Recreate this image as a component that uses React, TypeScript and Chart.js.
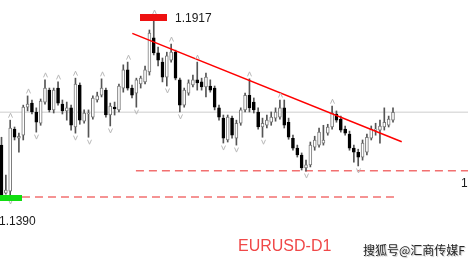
import React, { useEffect, useRef } from "react";
import { Chart, registerables } from "chart.js";

Chart.register(...registerables);

// EURUSD daily candles (index 0 .. 90)
const opens = [
  1.1542, 1.1401, 1.1407, 1.1589, 1.1562, 1.1571, 1.1653, 1.1665, 1.1639, 1.1606,
  1.1668, 1.1703, 1.1645, 1.1709, 1.1662, 1.1642, 1.1651, 1.1595, 1.1718, 1.1612,
  1.1633, 1.1624, 1.1674, 1.1688, 1.1703, 1.1630, 1.1653, 1.1645, 1.1709, 1.1762,
  1.1709, 1.1694, 1.1721, 1.1727, 1.1756, 1.1856, 1.1812, 1.1785, 1.1741, 1.1791,
  1.1814, 1.1733, 1.1659, 1.1694, 1.1718, 1.1733, 1.1727, 1.1712, 1.1715, 1.1709,
  1.1651, 1.1621, 1.1557, 1.1621, 1.1562, 1.1606, 1.1645, 1.1688, 1.1668, 1.1639,
  1.1595, 1.1600, 1.1609, 1.1621, 1.1624, 1.1651, 1.1609, 1.1562, 1.1533, 1.1513,
  1.1475, 1.1484, 1.1536, 1.1542, 1.1548, 1.1577, 1.1595, 1.1633, 1.1618, 1.1589,
  1.1574, 1.1533, 1.1521, 1.1507, 1.1521, 1.1562, 1.1586, 1.1586, 1.1595, 1.1600,
  1.1615,
];
const highs = [
  1.1565, 1.1454, 1.1615, 1.1595, 1.1577, 1.1659, 1.1686, 1.1674, 1.1651, 1.1677,
  1.1733, 1.1709, 1.1709, 1.1727, 1.1674, 1.1668, 1.1659, 1.1738, 1.1724, 1.1645,
  1.1645, 1.1686, 1.1697, 1.1736, 1.1709, 1.1665, 1.1668, 1.1721, 1.1777, 1.1785,
  1.1718, 1.1738, 1.1744, 1.1773, 1.1879, 1.1917, 1.1829, 1.1797, 1.1814, 1.1838,
  1.1820, 1.1738, 1.1709, 1.1733, 1.1747, 1.1785, 1.1738, 1.1753, 1.1733, 1.1715,
  1.1659, 1.1630, 1.1630, 1.1627, 1.1615, 1.1651, 1.1694, 1.1736, 1.1680, 1.1651,
  1.1621, 1.1630, 1.1639, 1.1651, 1.1674, 1.1674, 1.1621, 1.1571, 1.1542, 1.1519,
  1.1498, 1.1551, 1.1568, 1.1592, 1.1600, 1.1603, 1.1656, 1.1642, 1.1627, 1.1598,
  1.1583, 1.1542, 1.1530, 1.1557, 1.1574, 1.1598, 1.1606, 1.1615, 1.1651, 1.1627,
  1.1651,
];
const lows = [
  1.1392, 1.1398, 1.1390, 1.1557, 1.1521, 1.1557, 1.1642, 1.1633, 1.1580, 1.1600,
  1.1662, 1.1639, 1.1636, 1.1659, 1.1633, 1.1615, 1.1586, 1.1577, 1.1603, 1.1606,
  1.1565, 1.1618, 1.1668, 1.1683, 1.1624, 1.1598, 1.1630, 1.1639, 1.1697, 1.1703,
  1.1680, 1.1653, 1.1709, 1.1721, 1.1747, 1.1806, 1.1774, 1.1727, 1.1715, 1.1785,
  1.1733, 1.1639, 1.1653, 1.1688, 1.1712, 1.1703, 1.1703, 1.1683, 1.1697, 1.1645,
  1.1615, 1.1548, 1.1551, 1.1562, 1.1542, 1.1600, 1.1639, 1.1639, 1.1636, 1.1589,
  1.1565, 1.1592, 1.1600, 1.1612, 1.1618, 1.1592, 1.1559, 1.1527, 1.1507, 1.1469,
  1.1466, 1.1478, 1.1527, 1.1536, 1.1542, 1.1571, 1.1589, 1.1609, 1.1580, 1.1571,
  1.1527, 1.1492, 1.1481, 1.1498, 1.1513, 1.1557, 1.1571, 1.1548, 1.1586, 1.1595,
  1.1609,
];
const closes = [
  1.1395, 1.1410, 1.1592, 1.1565, 1.1568, 1.1653, 1.1662, 1.1639, 1.1609, 1.1671,
  1.1709, 1.1645, 1.1703, 1.1665, 1.1642, 1.1651, 1.1600, 1.1721, 1.1615, 1.1636,
  1.1636, 1.1680, 1.1686, 1.1709, 1.1630, 1.1656, 1.1648, 1.1715, 1.1762, 1.1709,
  1.1688, 1.1733, 1.1738, 1.1762, 1.1870, 1.1812, 1.1791, 1.1741, 1.1803, 1.1814,
  1.1738, 1.1659, 1.1703, 1.1724, 1.1733, 1.1724, 1.1712, 1.1741, 1.1703, 1.1653,
  1.1624, 1.1562, 1.1624, 1.1571, 1.1606, 1.1645, 1.1688, 1.1651, 1.1645, 1.1595,
  1.1606, 1.1615, 1.1624, 1.1639, 1.1651, 1.1600, 1.1565, 1.1533, 1.1513, 1.1475,
  1.1484, 1.1542, 1.1557, 1.1580, 1.1557, 1.1595, 1.1636, 1.1615, 1.1586, 1.1577,
  1.1533, 1.1521, 1.1507, 1.1548, 1.1565, 1.1589, 1.1589, 1.1598, 1.1609, 1.1618,
  1.1638,
];

// fractal markers (candle indices)
const fractalUp = [2, 6, 10, 13, 17, 23, 29, 35, 39, 45, 57, 64, 76];
const fractalDown = [2, 8, 17, 20, 25, 31, 38, 41, 51, 54, 60, 70, 82];

// drawn objects
const trendX = [30.07, 92.0];
const trendY = [1.1869, 1.1552];
const upperLevel = 1.1467;
const upperLevelX = [30.9, 110];
const lowerLevel = 1.139;
const lowerLevelX = [4.71, 91.15];
const currentPrice = 1.1638;

// texts
const highLabel = "1.1917";
const lowLabel = "1.1390";
const upperLevelLabel = "1.1467";
const symbolTitle = "EURUSD-D1";
const watermark = "搜狐号@汇商传媒F";

const X_MIN = -0.345;
const X_MAX = 107.24;
const Y_MAX = 1.19668;
const Y_MIN = 1.11939;

const overlayPlugin = {
  id: "overlayMarks",
  afterDatasetsDraw(chart: any) {
    const { ctx, scales } = chart;
    const xs = scales.x;
    const ys = scales.y;
    ctx.save();
    // fractal chevrons
    ctx.strokeStyle = "#b8b8b8";
    ctx.lineWidth = 1;
    fractalUp.forEach((i) => {
      const px = Math.round(xs.getPixelForValue(i)) + 0.5;
      const py = ys.getPixelForValue(highs[i]) - 5;
      ctx.beginPath();
      ctx.moveTo(px - 2, py + 2.5);
      ctx.lineTo(px, py - 2);
      ctx.lineTo(px + 2, py + 2.5);
      ctx.stroke();
    });
    fractalDown.forEach((i) => {
      const px = Math.round(xs.getPixelForValue(i)) + 0.5;
      const py = ys.getPixelForValue(lows[i]) + 5;
      ctx.beginPath();
      ctx.moveTo(px - 2, py - 2.5);
      ctx.lineTo(px, py + 2);
      ctx.lineTo(px + 2, py - 2.5);
      ctx.stroke();
    });

    // highest high box + label
    let hiIdx = 0;
    let loIdx = 0;
    highs.forEach((v, i) => {
      if (v > highs[hiIdx]) hiIdx = i;
    });
    lows.forEach((v, i) => {
      if (v < lows[loIdx]) loIdx = i;
    });
    const hx = xs.getPixelForValue(hiIdx);
    const hy = ys.getPixelForValue(highs[hiIdx]);
    ctx.fillStyle = "#ee1111";
    ctx.fillRect(Math.round(hx - 13.5), Math.round(hy - 3), 27, 7);
    ctx.font = '12px "Liberation Sans", Arial, sans-serif';
    ctx.fillStyle = "#1a1a1a";
    ctx.textBaseline = "middle";
    ctx.textAlign = "left";
    ctx.fillText(highLabel, Math.round(hx + 21), hy + 1.5);

    const lx = xs.getPixelForValue(loIdx);
    const ly = ys.getPixelForValue(lows[loIdx]);
    ctx.fillStyle = "#11dd11";
    ctx.fillRect(Math.round(lx - 11.5), Math.round(ly - 2.5), 23, 6);
    ctx.fillStyle = "#1a1a1a";
    ctx.fillText(lowLabel, -1, ly + 25);

    // label of the upper level (cut at the right edge)
    const uy = ys.getPixelForValue(upperLevel);
    ctx.fillText(upperLevelLabel, 461, uy + 12.5);
    ctx.restore();
  },
};

export default function App() {
  const canvasRef = useRef<HTMLCanvasElement | null>(null);

  useEffect(() => {
    document.body.style.margin = "0";
    const canvas = canvasRef.current;
    if (!canvas) return;
    const idx = opens.map((_, i) => i);
    const bull = idx.map((i) => closes[i] >= opens[i]);
    const chart = new Chart(canvas, {
      type: "bar",
      data: {
        datasets: [
          {
            type: "line",
            label: "trend",
            data: trendX.map((x, k) => ({ x, y: trendY[k] })),
            borderColor: "#ff0000",
            borderWidth: 1.5,
            pointRadius: 0,
            order: 0,
          } as any,
          {
            type: "bar",
            label: "body",
            data: idx.map((i) => ({ x: i, y: [opens[i], closes[i]] })),
            backgroundColor: idx.map((i) => (bull[i] ? "#ffffff" : "#000000")),
            borderColor: idx.map((i) => (bull[i] ? "#7a7a7a" : "#000000")),
            borderWidth: 1,
            borderSkipped: false,
            barThickness: 3,
            grouped: false,
            minBarLength: 1,
            order: 1,
          } as any,
          {
            type: "bar",
            label: "wick",
            data: idx.map((i) => ({ x: i, y: [lows[i], highs[i]] })),
            backgroundColor: "#555555",
            borderWidth: 0,
            barThickness: 1,
            grouped: false,
            order: 2,
          } as any,
          {
            type: "line",
            label: "upper level",
            data: upperLevelX.map((x) => ({ x, y: upperLevel })),
            borderColor: "#f27070",
            borderWidth: 1.5,
            borderDash: [8, 5],
            pointRadius: 0,
            order: 3,
          } as any,
          {
            type: "line",
            label: "lower level",
            data: lowerLevelX.map((x) => ({ x, y: lowerLevel })),
            borderColor: "#f27070",
            borderWidth: 1.5,
            borderDash: [8, 5],
            pointRadius: 0,
            order: 3,
          } as any,
          {
            type: "line",
            label: "price",
            data: [
              { x: X_MIN, y: currentPrice },
              { x: X_MAX, y: currentPrice },
            ],
            borderColor: "#dedede",
            borderWidth: 1.5,
            pointRadius: 0,
            order: 4,
          } as any,
        ],
      },
      options: {
        animation: false,
        responsive: false,
        devicePixelRatio: 1,
        layout: { padding: 0 },
        plugins: { legend: { display: false }, tooltip: { enabled: false } },
        events: [],
        scales: {
          x: { type: "linear", min: X_MIN, max: X_MAX, display: false, offset: false },
          y: { type: "linear", min: Y_MIN, max: Y_MAX, display: false },
        },
      },
      plugins: [overlayPlugin],
    });
    return () => chart.destroy();
  }, []);

  return (
    <div
      style={{
        position: "fixed",
        left: 0,
        top: 0,
        width: 468,
        height: 264,
        background: "#ffffff",
        overflow: "hidden",
      }}
    >
      <canvas ref={canvasRef} width={468} height={264} style={{ width: 468, height: 264, display: "block" }} />
      <div
        style={{
          position: "absolute",
          left: 238,
          top: 238,
          fontFamily: '"Liberation Sans", Arial, sans-serif',
          fontSize: 16,
          lineHeight: "16px",
          color: "#f04848",
          whiteSpace: "nowrap",
        }}
      >
        {symbolTitle}
      </div>
      <div
        style={{
          position: "absolute",
          left: 363,
          top: 243,
          fontFamily: '"Noto Sans CJK SC", sans-serif',
          fontSize: 12,
          lineHeight: "13px",
          color: "#262626",
          textShadow: "1px 1px 1px #c0c0c0",
          whiteSpace: "nowrap",
        }}
      >
        {watermark}
      </div>
    </div>
  );
}
